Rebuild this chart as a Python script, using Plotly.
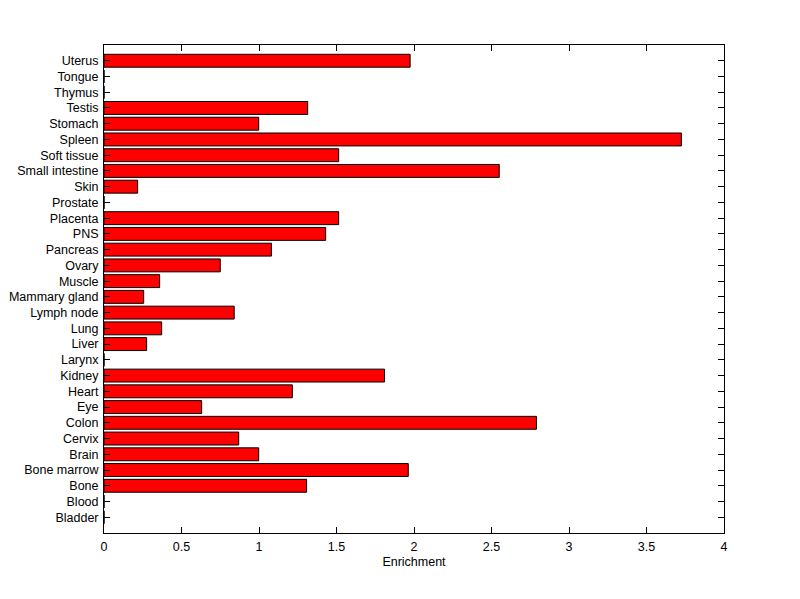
import plotly.graph_objects as go

tissues = ["Bladder", "Blood", "Bone", "Bone marrow", "Brain", "Cervix", "Colon", "Eye",
           "Heart", "Kidney", "Larynx", "Liver", "Lung", "Lymph node", "Mammary gland",
           "Muscle", "Ovary", "Pancreas", "PNS", "Placenta", "Prostate", "Skin",
           "Small intestine", "Soft tissue", "Spleen", "Stomach", "Testis", "Thymus",
           "Tongue", "Uterus"]
enrichment = [0, 0, 1.307, 1.963, 0.998, 0.869, 2.79, 0.63,
              1.215, 1.81, 0, 0.275, 0.372, 0.84, 0.256,
              0.359, 0.75, 1.08, 1.43, 1.514, 0, 0.217,
              2.55, 1.514, 3.725, 0.998, 1.314, 0,
              0, 1.975]
x_ticks = [0, 0.5, 1, 1.5, 2, 2.5, 3, 3.5, 4]
x_tick_text = ["0", "0.5", "1", "1.5", "2", "2.5", "3", "3.5", "4"]

fig = go.Figure(go.Bar(
    x=enrichment, y=list(range(len(tissues))), orientation="h",
    marker=dict(color="#FF0000", line=dict(color="black", width=1)),
    width=0.82,
))

# page body has an 8px default margin, compensate in the figure margins
fig.update_layout(
    width=800, height=599,
    margin=dict(l=96, r=84, t=37, b=74),
    paper_bgcolor="white", plot_bgcolor="white",
    font=dict(family="Liberation Sans, Arial, sans-serif", size=13, color="black"),
    showlegend=False,
)
fig.update_xaxes(
    range=[0, 4], tickvals=x_ticks, ticktext=x_tick_text, automargin=False,
    ticks="inside", ticklen=6, tickcolor="black", mirror="ticks",
    showline=True, linecolor="black", linewidth=1, showgrid=False, zeroline=False,
    title=dict(text="Enrichment", font=dict(size=12.5), standoff=4),
    ticklabelstandoff=2, tickfont=dict(size=12.5),
)
fig.update_yaxes(
    range=[-1, len(tissues)], tickvals=list(range(len(tissues))), ticktext=tissues,
    automargin=False,
    ticks="inside", ticklen=6, tickcolor="black", mirror="ticks",
    showline=True, linecolor="black", linewidth=1, showgrid=False, zeroline=False,
    ticklabelstandoff=2, tickfont=dict(size=12.5),
)

fig.write_html("out.html")
